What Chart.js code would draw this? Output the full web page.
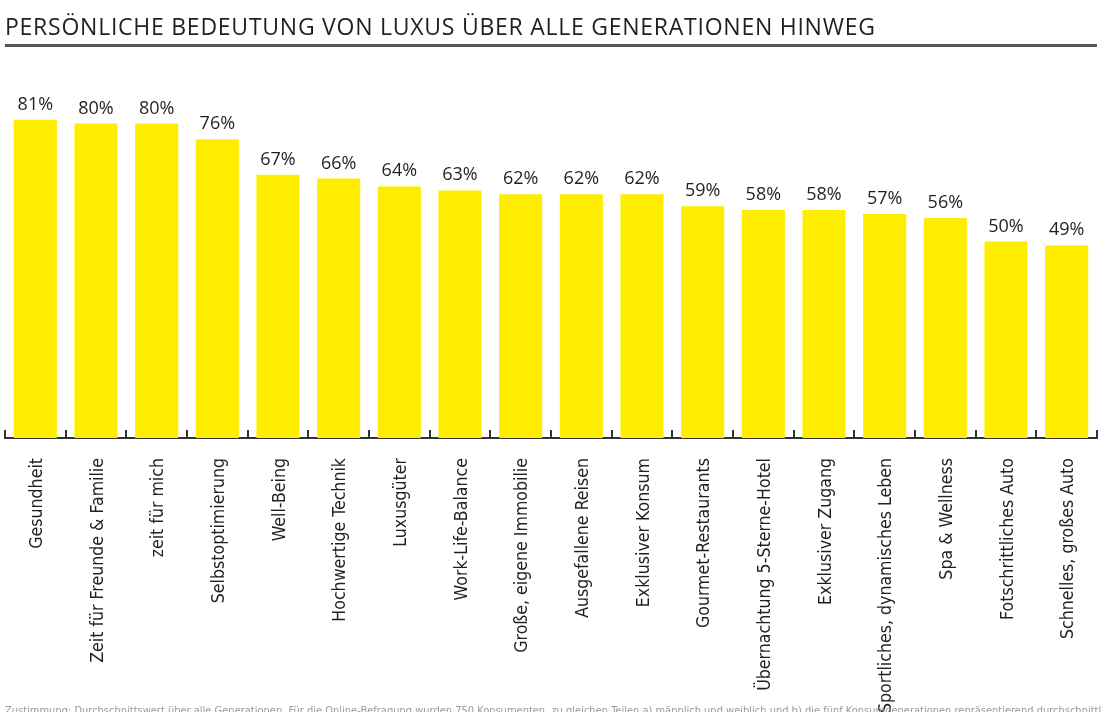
<!DOCTYPE html>
<html lang="de">
<head>
  <meta charset="UTF-8">
  <title>Persönliche Bedeutung von Luxus</title>
  <script src="https://cdn.jsdelivr.net/npm/chart.js"></script>
  <style>
    html, body {
      margin: 0;
      padding: 0;
      background: #ffffff;
      width: 1102px;
      height: 712px;
      overflow: hidden;
    }
    .title {
      position: absolute;
      left: 5px;
      top: 11px;
      width: 1092px;
      font-family: 'Open Sans', sans-serif;
      font-size: 23px;
      letter-spacing: 0.75px;
      color: #231f20;
      padding-bottom: 3px;
      border-bottom: 3px solid #555;
      white-space: nowrap;
      line-height: 30px;
    }
    .chart-box {
      position: absolute;
      left: 0;
      top: 0;
      width: 1102px;
      height: 712px;
    }
    .note {
      position: absolute;
      left: 5px;
      top: 704px;
      font-family: 'Liberation Sans Narrow', 'DejaVu Sans Condensed', sans-serif;
      font-size: 11px;
      color: #999;
      white-space: nowrap;
    }
  </style>
</head>
<body>

  <div class="chart-box"><canvas id="luxusChart" width="1102" height="712"></canvas></div>
  <div class="title">PERSÖNLICHE BEDEUTUNG VON LUXUS ÜBER ALLE GENERATIONEN HINWEG</div>
  <div class="note">Zustimmung: Durchschnittswert über alle Generationen. Für die Online-Befragung wurden 750 Konsumenten, zu gleichen Teilen a) männlich und weiblich und b) die fünf Konsumgenerationen repräsentierend durchschnittlich</div>

  <script>
// Kategorien und Werte (Prozent Zustimmung)
const categories = [
  'Gesundheit', 'Zeit für Freunde & Familie', 'zeit für mich', 'Selbstoptimierung',
  'Well-Being', 'Hochwertige Technik', 'Luxusgüter', 'Work-Life-Balance',
  'Große, eigene Immobilie', 'Ausgefallene Reisen', 'Exklusiver Konsum',
  'Gourmet-Restaurants', 'Übernachtung 5-Sterne-Hotel', 'Exklusiver Zugang',
  'Sportliches, dynamisches Leben', 'Spa & Wellness', 'Fotschrittliches Auto',
  'Schnelles, großes Auto'
];
const values = [81, 80, 80, 76, 67, 66, 64, 63, 62, 62, 62, 59, 58, 58, 57, 56, 50, 49];

const textColor = '#231f20';
const barColor = '#ffed00';

// Prozentwerte über den Balken
const valueLabels = {
  id: 'valueLabels',
  afterDatasetsDraw(chart) {
    const ctx = chart.ctx;
    const meta = chart.getDatasetMeta(0);
    ctx.save();
    ctx.font = '18px "Open Sans", sans-serif';
    ctx.fillStyle = textColor;
    ctx.textAlign = 'center';
    ctx.textBaseline = 'alphabetic';
    meta.data.forEach((bar, i) => {
      ctx.fillText(values[i] + '%', bar.x, bar.y - 10);
    });
    ctx.restore();
  }
};

// kleine Striche zwischen den Kategorien, nach oben
const boundaryTicks = {
  id: 'boundaryTicks',
  afterDraw(chart) {
    const x = chart.scales.x;
    const ctx = chart.ctx;
    const step = x.width / categories.length;
    ctx.save();
    ctx.strokeStyle = '#333';
    ctx.lineWidth = 2;
    for (let i = 0; i <= categories.length; i++) {
      const px = Math.round(x.left + i * step);
      ctx.beginPath();
      ctx.moveTo(px, x.top);
      ctx.lineTo(px, x.top - 8);
      ctx.stroke();
    }
    ctx.restore();
  }
};

new Chart(document.getElementById('luxusChart'), {
  type: 'bar',
  data: {
    labels: categories,
    datasets: [{
      data: values,
      backgroundColor: barColor,
      borderWidth: 0,
      barPercentage: 0.71,
      categoryPercentage: 1
    }]
  },
  options: {
    responsive: false,
    animation: false,
    layout: { padding: { left: 5, right: 5, top: 45, bottom: 0 } },
    plugins: {
      legend: { display: false },
      tooltip: { enabled: false }
    },
    scales: {
      x: {
        grid: { display: false, drawTicks: false },
        border: { display: true, color: '#333', width: 2 },
        ticks: {
          color: textColor,
          font: { family: '"Liberation Sans Narrow", "DejaVu Sans Condensed", sans-serif', size: 17.6 },
          minRotation: 90,
          maxRotation: 90,
          autoSkip: false,
          padding: 20,
          labelOffset: 2
        },
        afterFit(scale) {
          scale.height = 274;
          scale.paddingLeft = 0;
          scale.paddingRight = 0;
        }
      },
      y: {
        display: false,
        min: 0,
        max: 100
      }
    }
  },
  plugins: [valueLabels, boundaryTicks]
});
  </script>
</body>
</html>
